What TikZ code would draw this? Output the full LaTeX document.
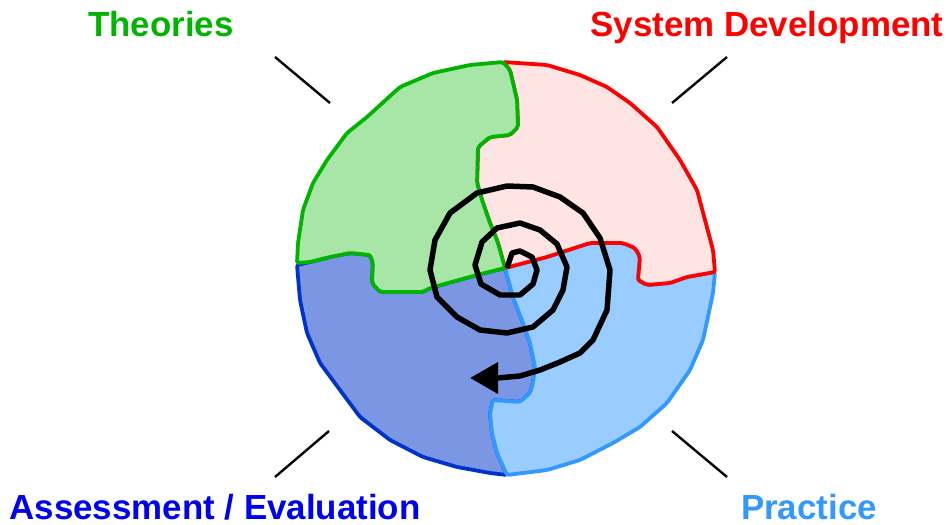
\documentclass[tikz,border=0pt]{standalone}
\usepackage{fontspec}
\setmainfont{Liberation Sans}
\usetikzlibrary{arrows.meta}

\definecolor{thgreen}{RGB}{0,180,0}
\definecolor{thgreenfill}{RGB}{168,230,168}
\definecolor{sdred}{RGB}{255,0,0}
\definecolor{sdredfill}{RGB}{255,228,228}
\definecolor{asblue}{RGB}{0,51,204}
\definecolor{asbluefill}{RGB}{123,150,227}
\definecolor{prblue}{RGB}{51,153,255}
\definecolor{prbluefill}{RGB}{153,204,255}
\definecolor{astext}{RGB}{0,0,240}

\tikzset{
  part/.style={line width=2.7pt,line join=round,rounded corners=1.5pt},
  lbl/.style={font=\bfseries\fontsize{24.8}{30}\selectfont,inner sep=0pt,anchor=base},
  tick/.style={line width=1.7pt,black},
}

\begin{document}
\begin{tikzpicture}[x=0.025cm,y=-0.025cm]

\useasboundingbox (0,0) rectangle (947,525);

%=== Viertel des Kreises ===
% Assessment / Evaluation (dunkelblau)
\filldraw[part,draw=asblue,fill=asbluefill]
  (297,265) -- (300,300) -- (307,333) -- (320,363) -- (340,390) -- (360,417)
  -- (390,440) -- (423,457) -- (457,467) -- (490,473) -- (507,475)
  -- (497,453) -- (492,433) -- (490,413) -- (493,400) -- (520,402) -- (530,393)
  -- (533,383) -- (535,367) -- (530,343) -- (523,323) -- (513,297) -- (505,268)
  -- (477,275) -- (430,288) -- (423,292) -- (380,292) -- (372,283) -- (373,263)
  -- (370,255) -- (350,253) -- (330,257) -- (310,262) -- cycle;

% Practice (hellblau)
\filldraw[part,draw=prblue,fill=prbluefill]
  (505,268) -- (547,257) -- (590,243) -- (623,243) -- (635,248) -- (640,257)
  -- (638,280) -- (647,285) -- (670,283) -- (687,277) -- (715,272)
  -- (713,293) -- (703,340) -- (690,370) -- (667,403) -- (640,427) -- (613,443)
  -- (580,460) -- (547,470) -- (507,475)
  -- (497,453) -- (492,433) -- (490,413) -- (493,400) -- (520,402) -- (530,393)
  -- (533,383) -- (535,367) -- (530,343) -- (523,323) -- (513,297) -- cycle;

% System Development (rot)
\filldraw[part,draw=sdred,fill=sdredfill]
  (503,62) -- (547,65) -- (580,75) -- (607,87) -- (630,103) -- (657,127)
  -- (680,160) -- (697,190) -- (713,250) -- (715,272)
  -- (687,277) -- (670,283) -- (647,285) -- (638,280) -- (640,257) -- (635,248)
  -- (623,243) -- (590,243) -- (547,257) -- (505,268)
  -- (498,243) -- (490,223) -- (483,203) -- (477,183) -- (478,147) -- (490,137)
  -- (510,135) -- (518,127) -- (517,100) -- (510,70) -- cycle;

% Theories (gruen)
\filldraw[part,draw=thgreen,fill=thgreenfill]
  (297,263) -- (298,243) -- (303,210) -- (313,183) -- (327,160) -- (347,133)
  -- (367,117) -- (400,87) -- (433,73) -- (470,65) -- (503,62)
  -- (510,70) -- (517,100) -- (518,127) -- (510,135) -- (490,137) -- (478,147)
  -- (477,183) -- (483,203) -- (490,223) -- (498,243) -- (505,268)
  -- (477,275) -- (430,288) -- (423,292) -- (380,292) -- (372,283) -- (373,263)
  -- (370,255) -- (350,253) -- (330,257) -- (310,262) -- cycle;

%=== Spirale ===
\draw[line width=3.9pt,line join=round,-{Triangle[length=0.7cm,width=0.76cm]}]
  (507,268) -- (512,253) -- (520,251) -- (532,257) -- (537,270) -- (533,284)
  -- (520,295) -- (500,295) -- (481,284) -- (475,265) -- (482,242) -- (497,228)
  -- (520,223) -- (540,230) -- (557,244) -- (567,267) -- (563,290) -- (553,310)
  -- (533,327) -- (507,333) -- (480,330) -- (457,317) -- (437,297) -- (430,270)
  -- (435,240) -- (450,213) -- (477,193) -- (507,186) -- (533,187) -- (560,197)
  -- (583,213) -- (600,238) -- (610,270) -- (607,310) -- (593,340) -- (580,353)
  -- (560,362) -- (540,370) -- (520,376) -- (497,378) -- (470,378);

%=== Beschriftungen ===
\node[lbl,thgreen] (theo) at (161,37) {Theories};
\node[lbl,sdred] (sysdev) at (767,37) {System Development};
\node[lbl,astext] (assess) at (215,519) {Assessment / Evaluation};
\node[lbl,prblue] (prac) at (809,519) {Practice};

% Striche
\coordinate (t1) at (275,57);   \coordinate (t2) at (330,103);
\coordinate (s1) at (727,57);   \coordinate (s2) at (672,103);
\coordinate (a1) at (275,477);  \coordinate (a2) at (329,431);
\coordinate (p1) at (727,477);  \coordinate (p2) at (672,431);
\draw[tick] (t1) -- (t2);
\draw[tick] (s1) -- (s2);
\draw[tick] (a1) -- (a2);
\draw[tick] (p1) -- (p2);

\end{tikzpicture}
\end{document}
